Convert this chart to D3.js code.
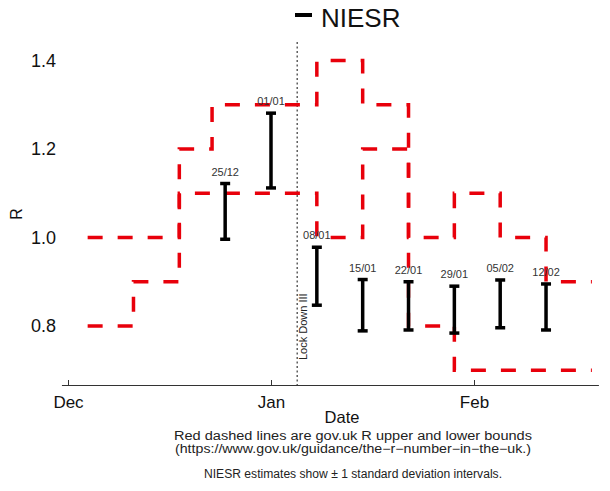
<!DOCTYPE html>
<html>
<head>
<meta charset="utf-8">
<script src="https://cdn.jsdelivr.net/npm/d3@7/dist/d3.min.js"></script>
<style>
    body { margin: 0; background: #fff; }
    svg { font-family: "Liberation Sans", Arial, Helvetica, sans-serif; }
</style>
</head>
<body>
<div id="chart"></div>
<script>
// gov.uk R bounds (step, holds until next publication)
var boundDates = ["2020-12-04", "2020-12-11", "2020-12-18", "2020-12-23", "2021-01-08",
                  "2021-01-15", "2021-01-22", "2021-01-29", "2021-02-05", "2021-02-12", "2021-02-19"];
var upperBound = [1.0, 1.0, 1.2, 1.3, 1.4, 1.3, 1.0, 1.1, 1.0, 0.9, 0.9];
var lowerBound = [0.8, 0.9, 1.1, 1.1, 1.0, 1.2, 0.8, 0.7, 0.7, 0.7, 0.7];

// NIESR estimates, +/- 1 sd
var niesrDates = ["2020-12-25", "2021-01-01", "2021-01-08", "2021-01-15",
                  "2021-01-22", "2021-01-29", "2021-02-05", "2021-02-12"];
var niesrLabels = ["25/12", "01/01", "08/01", "15/01", "22/01", "29/01", "05/02", "12/02"];
var niesrHigh = [1.122, 1.281, 0.978, 0.905, 0.900, 0.890, 0.904, 0.895];
var niesrLow = [0.996, 1.112, 0.847, 0.789, 0.791, 0.784, 0.796, 0.791];

var monthTicks = ["2020-12-01", "2021-01-01", "2021-02-01"];
var monthLabels = ["Dec", "Jan", "Feb"];
var yTicks = [0.8, 1.0, 1.2, 1.4];
var lockdownDate = "2021-01-05";
var notes = [
    "Red dashed lines are gov.uk R upper and lower bounds",
    "(https://www.gov.uk/guidance/the\u2212r\u2212number\u2212in\u2212the\u2212uk.)",
    "NIESR estimates show \u00b1 1 standard deviation intervals."
];

var parse = d3.timeParse("%Y-%m-%d");
var width = 610, height = 491;
var axisY = 385;
var dayPx = 406 / 62; //Dec 1 -> Feb 1

var svg = d3.select("#chart").append("svg")
    .attr("width", width)
    .attr("height", height);

svg.append("rect").attr("width", width).attr("height", height).attr("fill", "#fff");

//scales
var x = d3.scaleTime()
    .domain([parse("2020-11-30"), parse("2021-02-20")])
    .range([68 - dayPx, 68 + 81 * dayPx]);
var y = d3.scaleLinear()
    .domain([0.8, 1.4])
    .range([326, 60.5]);

//x axis, ticks pointing inward
var xAxis = d3.axisBottom(x)
    .tickValues(monthTicks.map(parse))
    .tickFormat(function(d, i) { return monthLabels[i]; })
    .tickSizeInner(-5)
    .tickSizeOuter(0)
    .tickPadding(11);

var xg = svg.append("g")
    .attr("transform", "translate(0," + axisY + ")")
    .call(xAxis);
xg.select(".domain").attr("stroke", "#333").attr("stroke-width", 1.2);
xg.selectAll(".tick line").attr("stroke", "#333");
xg.selectAll("text").style("font-size", "17px").attr("fill", "#111");

//y axis labels only
var yAxis = d3.axisLeft(y)
    .tickValues(yTicks)
    .tickFormat(d3.format(".1f"))
    .tickSize(0)
    .tickPadding(6);
var yg = svg.append("g")
    .attr("transform", "translate(62,0)")
    .call(yAxis);
yg.select(".domain").remove();
yg.selectAll("text").style("font-size", "18px").attr("fill", "#111");

//axis titles
svg.append("text")
    .attr("x", 342).attr("y", 423)
    .attr("text-anchor", "middle")
    .style("font-size", "16.5px")
    .attr("fill", "#111")
    .text("Date");
svg.append("text")
    .attr("transform", "translate(22,214) rotate(-90)")
    .attr("text-anchor", "middle")
    .style("font-size", "16px")
    .attr("fill", "#111")
    .text("R");

//lockdown marker
var lx = x(parse(lockdownDate));
svg.append("line")
    .attr("x1", lx).attr("x2", lx)
    .attr("y1", 42).attr("y2", axisY)
    .attr("stroke", "#444")
    .attr("stroke-width", 1.3)
    .attr("stroke-dasharray", "2,2.5");
svg.append("text")
    .attr("transform", "translate(" + (lx + 10) + ",360) rotate(-90)")
    .style("font-size", "11px")
    .attr("fill", "#222")
    .text("Lock Down III");

//bounds as dashed step lines
var stepLine = d3.line()
    .x(function(d) { return x(parse(d[0])); })
    .y(function(d) { return y(d[1]); })
    .curve(d3.curveStepAfter);

[upperBound, lowerBound].forEach(function(vals) {
    svg.append("path")
        .datum(boundDates.map(function(d, i) { return [d, vals[i]]; }))
        .attr("d", stepLine)
        .attr("fill", "none")
        .attr("stroke", "#e8000b")
        .attr("stroke-width", 3.5)
        .attr("stroke-dasharray", "15,15");
});

//NIESR error bars
var bars = svg.append("g").selectAll("g")
    .data(niesrDates)
    .enter().append("g");

bars.append("line")
    .attr("x1", function(d) { return x(parse(d)); })
    .attr("x2", function(d) { return x(parse(d)); })
    .attr("y1", function(d, i) { return y(niesrHigh[i]); })
    .attr("y2", function(d, i) { return y(niesrLow[i]); })
    .attr("stroke", "#000")
    .attr("stroke-width", 3.5);

[niesrHigh, niesrLow].forEach(function(vals) {
    bars.append("line")
        .attr("x1", function(d) { return x(parse(d)) - 5; })
        .attr("x2", function(d) { return x(parse(d)) + 5; })
        .attr("y1", function(d, i) { return y(vals[i]); })
        .attr("y2", function(d, i) { return y(vals[i]); })
        .attr("stroke", "#000")
        .attr("stroke-width", 3.5);
});

bars.append("text")
    .attr("x", function(d) { return x(parse(d)); })
    .attr("y", function(d, i) { return y(niesrHigh[i]) - 8; })
    .attr("text-anchor", "middle")
    .style("font-size", "11px")
    .attr("fill", "#333")
    .text(function(d, i) { return niesrLabels[i]; });

//legend
svg.append("line")
    .attr("x1", 295).attr("x2", 312)
    .attr("y1", 15).attr("y2", 15)
    .attr("stroke", "#000")
    .attr("stroke-width", 4);
svg.append("text")
    .attr("x", 321).attr("y", 27)
    .style("font-size", "26px")
    .attr("fill", "#111")
    .text("NIESR");

//notes under the axis
var noteY = [440, 453, 478];
var noteW = [358, 356, 298];
svg.selectAll(".note")
    .data(notes)
    .enter().append("text")
    .attr("class", "note")
    .attr("x", 353)
    .attr("y", function(d, i) { return noteY[i]; })
    .attr("text-anchor", "middle")
    .attr("textLength", function(d, i) { return noteW[i]; })
    .attr("lengthAdjust", "spacingAndGlyphs")
    .style("font-size", "12px")
    .attr("fill", "#222")
    .text(function(d) { return d; });
</script>
</body>
</html>
